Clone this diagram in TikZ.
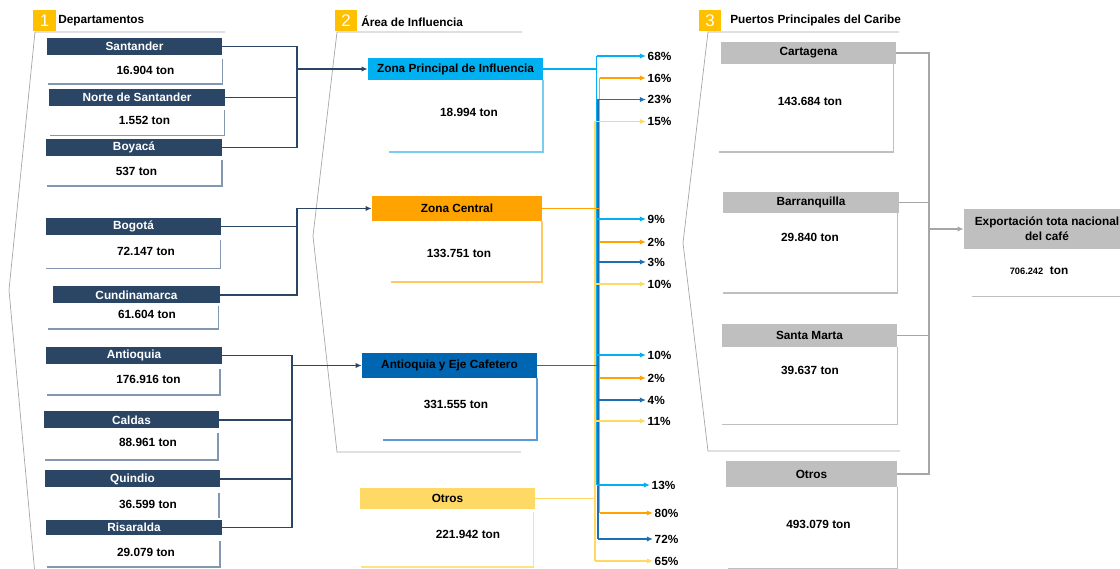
\documentclass[tikz,border=0pt]{standalone}
\usepackage{fontspec}
\setmainfont{Liberation Sans}
\usetikzlibrary{arrows.meta}

\begin{document}
\begin{tikzpicture}[x=0.025cm,y=-0.025cm,
    every node/.style={inner sep=0pt,font=\fontsize{8.4}{10.4}\selectfont\bfseries},
    numbox/.style={fill=r255g192b0,text=white,minimum width=0.55cm,minimum height=0.51cm,font=\fontsize{12}{12}\selectfont},
    depbar/.style={fill=r43g69b101,text=white,minimum width=4.375cm,minimum height=0.425cm},
    zonebar/.style={minimum width=4.375cm,minimum height=0.6cm},
    portbar/.style={fill=r191g191b191,minimum width=4.375cm,minimum height=0.55cm},
    pct/.style={anchor=west,inner xsep=1pt},
    tip/.style={-{Latex[length=4.4pt,width=3.8pt]}},
    frameline/.style={draw=r166g166b166,line width=0.5pt},
    deprule/.style={draw=r132g151b176,line width=0.8pt},
    depline/.style={draw=r43g69b101,line width=1.2pt},
    portline/.style={draw=r166g166b166,line width=1.1pt},
    bus/.style={line width=1.2pt},
    branch/.style={tip,line width=1pt}]
% \clip (0,0) rectangle (1120,569);
\definecolor{r43g69b101}{RGB}{43,69,101}%
\definecolor{r255g192b0}{RGB}{255,192,0}%
\definecolor{r0g176b240}{RGB}{0,176,240}%
\definecolor{r255g163b0}{RGB}{255,163,0}%
\definecolor{r0g102b178}{RGB}{0,102,178}%
\definecolor{r30g110b180}{RGB}{30,110,180}%
\definecolor{r255g217b102}{RGB}{255,217,102}%
\definecolor{r191g191b191}{RGB}{191,191,191}%
\definecolor{r166g166b166}{RGB}{166,166,166}%
\definecolor{r132g151b176}{RGB}{132,151,176}%
\definecolor{r120g205b240}{RGB}{120,205,240}%
\definecolor{r255g200b100}{RGB}{255,200,100}%
\definecolor{r91g155b213}{RGB}{91,155,213}%
\definecolor{r255g225b140}{RGB}{255,225,140}%
\useasboundingbox (0,0) rectangle (1120,569);
\clip (0,0) rectangle (1120,569);

% Section headers
\node[numbox] (num1) at (44.5,20.5) {1};
\node[anchor=west] (head1) at (58,20.7) {Departamentos};
\node[numbox] (num2) at (346,20.5) {2};
\node[anchor=west] (head2) at (361,21.5) {Área de Influencia};
\node[numbox] (num3) at (710,20.5) {3};
\node[anchor=west] (head3) at (730,20.7) {Puertos Principales del Caribe};

% Section frames
\draw[frameline] (225,32) -- (35,32) -- (9,290) -- (35,575);
\draw[frameline] (522,32) -- (337,32) -- (313,236) -- (337,452) -- (521,452);
\draw[frameline] (899,32) -- (708,32) -- (683,243) -- (708,451) -- (900,451);

% Marking department Santander
\node[depbar] (santander) at (134.5,46.5) {Santander};
\node (santanderval) at (145.5,70) {16.904 ton};
\draw[deprule] (222.5,59) -- (222.5,84) -- (48,84);

% Marking department Norte de Santander
\node[depbar] (norte) at (137,97.5) {Norte de Santander};
\node (norteval) at (144.5,120.5) {1.552 ton};
\draw[deprule] (224.5,110) -- (224.5,135.5) -- (50,135.5);

% Marking department Boyaca
\node[depbar] (boyaca) at (134,147.5) {Boyacá};
\node (boyacaval) at (136.5,171) {537 ton};
\draw[deprule] (222,160) -- (222,186) -- (47,186);

% Marking department Bogota
\node[depbar] (bogota) at (133.5,226.5) {Bogotá};
\node (bogotaval) at (146,251.5) {72.147 ton};
\draw[deprule] (220.5,240) -- (220.5,268.5) -- (46,268.5);

% Marking department Cundinamarca
\node[depbar,minimum width=4.175cm] (cundinamarca) at (136.5,295) {Cundinamarca};
\node (cundinamarcaval) at (147,314) {61.604 ton};
\draw[deprule] (218.5,306) -- (218.5,329) -- (48,329);

% Marking department Antioquia
\node[depbar] (antioquia) at (134,355.5) {Antioquia};
\node (antioquiaval) at (148.5,379) {176.916 ton};
\draw[deprule] (220,369) -- (220,395) -- (47,395);

% Marking department Caldas
\node[depbar] (caldas) at (131.5,420) {Caldas};
\node (caldasval) at (148,442.7) {88.961 ton};
\draw[deprule] (218,433) -- (218,460) -- (45,460);

% Marking department Quindio
\node[depbar] (quindio) at (132.5,479) {Quindio};
\node (quindioval) at (148,504.5) {36.599 ton};
\draw[deprule] (219,493) -- (219,518);

% Marking department Risaralda
\node[depbar,minimum height=0.385cm] (risaralda) at (134,527.5) {Risaralda};
\node (risaraldaval) at (146,552.5) {29.079 ton};
\draw[deprule] (220,541) -- (220,567) -- (47,567);

% Marking zone Zona Principal de Influencia
\node[zonebar,fill=r0g176b240,minimum height=0.55cm] (zonaprin) at (455.5,69) {Zona Principal de Influencia};
\node (zonaprinval) at (469,112.7) {18.994 ton};
\draw[draw=r120g205b240,line width=0.8pt] (543,80) -- (543,152) -- (389,152);

% Marking zone Zona Central
\node[zonebar,fill=r255g163b0,minimum width=4.25cm,minimum height=0.625cm] (zonacentral) at (457,208.5) {Zona Central};
\node (zonacentralval) at (459,253) {133.751 ton};
\draw[draw=r255g200b100,line width=0.8pt] (542,221) -- (542,282) -- (391,282);

% Marking zone Antioquia y Eje Cafetero
\node[zonebar,fill=r0g102b178,minimum height=0.625cm] (zonaeje) at (449.5,365.5) {Antioquia y Eje Cafetero};
\node (zonaejeval) at (456,404) {331.555 ton};
\draw[draw=r91g155b213,line width=0.8pt] (537,378) -- (537,440) -- (383,440);

% Marking zone Otros
\node[zonebar,fill=r255g217b102,minimum height=0.525cm] (zonaotros) at (447.5,498.5) {Otros};
\node (zonaotrosval) at (468,534) {221.942 ton};
\draw[draw=r255g225b140,line width=0.8pt] (533.5,512) -- (533.5,567) -- (361,567);

% Drawing departments into zones
\coordinate (joinA) at (297,69);
\draw[depline] (santander.east) -| (joinA);
\draw[depline] (norte.east) -| (joinA);
\draw[depline] (boyaca.east) -| (joinA);
\draw[depline,tip] (joinA) -- (zonaprin.west);
\coordinate (joinB) at (297,208.5);
\draw[depline] (bogota.east) -| (joinB);
\draw[depline] (cundinamarca.east) -| (joinB);
\draw[depline,tip] (joinB) -- (zonacentral.west);
\coordinate (joinC) at (292,365.5);
\draw[depline] (antioquia.east) -| (joinC);
\draw[depline] (caldas.east) -| (joinC);
\draw[depline] (quindio.east) -| (joinC);
\draw[depline] (risaralda.east) -| (joinC);
\draw[depline,tip] (joinC) -- (zonaeje.west);

% Marking shares per port
\node[pct] (c68) at (646,56) {68\%};
\node[pct] (c16) at (646,78) {16\%};
\node[pct] (c23) at (646,99.5) {23\%};
\node[pct] (c15) at (646,121.5) {15\%};
\node[pct] (b9) at (646,219) {9\%};
\node[pct] (b2) at (646,242) {2\%};
\node[pct] (b3) at (646,262) {3\%};
\node[pct] (b10) at (646,284) {10\%};
\node[pct] (s10) at (646,355) {10\%};
\node[pct] (s2) at (646,378) {2\%};
\node[pct] (s4) at (646,400) {4\%};
\node[pct] (s11) at (646,421) {11\%};
\node[pct] (o13) at (650,485) {13\%};
\node[pct] (o80) at (653,513) {80\%};
\node[pct] (o72) at (653,539) {72\%};
\node[pct] (o65) at (653,561) {65\%};

% Drawing zone buses
\coordinate (ylx) at (595,0);
\coordinate (lbx) at (596.5,0);
\coordinate (dbx) at (598,0);
\coordinate (orx) at (599.5,0);
\draw[bus,r255g217b102] (c15.west -| ylx) -- (o65.west -| ylx);
\draw[bus,r255g217b102] (zonaotros.east) -- (zonaotros.east -| ylx);
\draw[bus,r0g176b240] (c68.west -| lbx) -- (o13.west -| lbx);
\draw[bus,r0g176b240] (zonaprin.east) -- (zonaprin.east -| lbx);
\draw[bus,r30g110b180] (c23.west -| dbx) -- (o72.west -| dbx);
\draw[bus,r30g110b180] (zonaeje.east) -- (zonaeje.east -| dbx);
\draw[bus,r255g163b0] (c16.west -| orx) -- (o80.west -| orx);
\draw[bus,r255g163b0] (zonacentral.east) -- (zonacentral.east -| orx);

% Drawing share arrows
\foreach \p in {c68,b9,s10,o13}
  \draw[branch,r0g176b240] (\p.west -| lbx) -- (\p.west);
\foreach \p in {c16,b2,s2,o80}
  \draw[branch,r255g163b0] (\p.west -| orx) -- (\p.west);
\foreach \p in {c23,b3,s4,o72}
  \draw[branch,r30g110b180] (\p.west -| dbx) -- (\p.west);
\foreach \p in {c15,b10,s11,o65}
  \draw[branch,r255g217b102] (\p.west -| ylx) -- (\p.west);

% Marking port Cartagena
\node[portbar] (cartagena) at (808.5,53) {Cartagena};
\node (cartagenaval) at (810,101.7) {143.684 ton};
\draw[draw=r191g191b191,line width=0.8pt] (893.7,64) -- (893.7,152) -- (719,152);

% Marking port Barranquilla
\node[portbar,minimum width=4.4cm,minimum height=0.54cm] (barranquilla) at (811,202.5) {Barranquilla};
\node (barranquillaval) at (810,237) {29.840 ton};
\draw[draw=r191g191b191,line width=0.8pt] (897.3,213) -- (897.3,293) -- (722.7,293);

% Marking port Santa Marta
\node[portbar,minimum height=0.57cm] (santamarta) at (809.5,335.3) {Santa Marta};
\node (santamartaval) at (810,370) {39.637 ton};
\draw[draw=r191g191b191,line width=0.8pt] (897.3,347) -- (897.3,424.3) -- (721.7,424.3);

% Marking port Otros
\node[portbar,minimum width=4.275cm,minimum height=0.665cm] (puertootros) at (811.5,474) {Otros};
\node (puertootrosval) at (818.5,524) {493.079 ton};
\draw[draw=r191g191b191,line width=0.8pt] (897.3,487) -- (897.3,568.3) -- (727.7,568.3);

% Marking total export
\node[portbar,minimum width=4.15cm,minimum height=1.015cm,align=center] (export) at (1047,229) {Exportación tota nacional\\del café};
\node (exportval) at (1039,271) {{\fontsize{6.6}{8}\selectfont 706.242}\ \ ton};
\draw[draw=r191g191b191,line width=0.8pt] (972,296.7) -- (1120,296.7);

% Drawing ports into total export
\coordinate (joinD) at (929,229);
\draw[portline] (cartagena.east) -| (joinD);
\draw[portline] (barranquilla.east) -| (joinD);
\draw[portline] (santamarta.east) -| (joinD);
\draw[portline] (puertootros.east) -| (joinD);
\draw[portline,tip] (joinD) -- (export.west);
\end{tikzpicture}
\end{document}
